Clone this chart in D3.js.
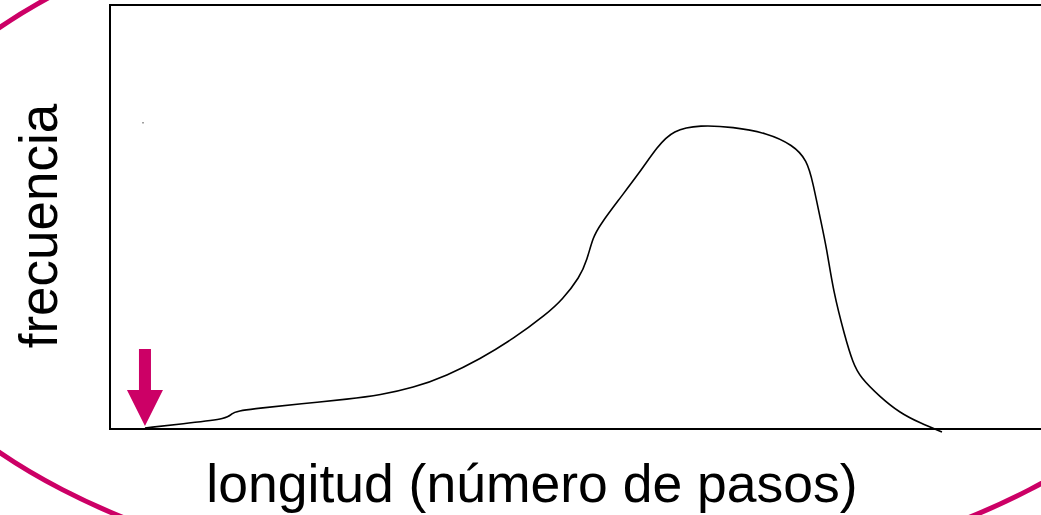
<!DOCTYPE html>
<html>
<head>
<meta charset="utf-8">
<script src="https://cdn.jsdelivr.net/npm/d3@7"></script>
<style>
  html, body { margin: 0; padding: 0; background: #fff; overflow: hidden; }
  svg { display: block; }
</style>
</head>
<body>
<svg id="chart" width="1041" height="515"></svg>
<script>
// Distribution curve: longitud (número de pasos) vs frecuencia (relative units 0-100)
const longitud = [3.76, 8.60, 12.69, 13.01, 13.66, 16.13, 20.43, 25.81, 29.03, 32.58, 36.24, 39.78, 43.33, 46.99, 48.60, 50.54, 51.29, 51.94, 52.69, 54.52, 56.99, 58.82, 60.54, 63.44, 66.99, 70.65, 73.44, 74.95, 75.59, 76.34, 77.10, 77.74, 79.03, 79.89, 80.65, 82.80, 84.95, 87.10, 89.46];
const frecuencia = [0.24, 1.42, 2.48, 3.54, 4.25, 4.95, 5.90, 7.08, 8.02, 9.67, 12.6, 16.5, 21.2, 27.2, 30.42, 35.85, 39.86, 45.28, 48.11, 53.54, 60.61, 66.51, 70.52, 71.70, 71.23, 69.81, 66.98, 63.44, 58.02, 50.00, 42.22, 32.78, 21.70, 15.57, 12.26, 7.55, 3.77, 1.42, -0.71];
const strayDot = [3.55, 72.2];
const xLabel = "longitud (número de pasos)";
const yLabel = "frecuencia";

const accent = "#cc0066";
const svg = d3.select("#chart");

const x = d3.scaleLinear().domain([0, 100]).range([110, 1040]);
const y = d3.scaleLinear().domain([0, 100]).range([429, 5]);

// big background ellipse
svg.append("ellipse")
  .attr("cx", 546).attr("cy", 240).attr("rx", 684).attr("ry", 353)
  .attr("fill", "none").attr("stroke", accent).attr("stroke-width", 5);

// plot frame (right side runs past the window)
svg.append("rect")
  .attr("x", x(0)).attr("y", y(100))
  .attr("width", 1060 - x(0)).attr("height", y(0) - y(100))
  .attr("fill", "#fff").attr("stroke", "#000").attr("stroke-width", 2);

// curve
const pts = longitud.map((v, i) => [v, frecuencia[i]]);
const line = d3.line().x(d => x(d[0])).y(d => y(d[1])).curve(d3.curveBasis);
svg.append("path").datum(pts)
  .attr("d", line)
  .attr("fill", "none").attr("stroke", "#000").attr("stroke-width", 1.6)
  .attr("stroke-linejoin", "round");

// stray dot
svg.append("circle")
  .attr("cx", x(strayDot[0])).attr("cy", y(strayDot[1])).attr("r", 0.8)
  .attr("fill", "#666");

// arrow pointing to the start of the curve
const ax = x(longitud[0]);
const tip = y(0) - 3;
const arrow = d3.path();
arrow.moveTo(ax - 6, tip - 77);
arrow.lineTo(ax + 6, tip - 77);
arrow.lineTo(ax + 6, tip - 36);
arrow.lineTo(ax + 18, tip - 36);
arrow.lineTo(ax, tip);
arrow.lineTo(ax - 18, tip - 36);
arrow.lineTo(ax - 6, tip - 36);
arrow.closePath();
svg.append("path").attr("d", arrow.toString()).attr("fill", accent);

// axis titles
svg.append("text")
  .attr("x", 532).attr("y", 502)
  .attr("text-anchor", "middle")
  .attr("font-family", "'Liberation Sans', Arial, sans-serif")
  .attr("font-size", 53.5)
  .attr("fill", "#000")
  .text(xLabel);

svg.append("text")
  .attr("transform", "translate(57,226) rotate(-90)")
  .attr("text-anchor", "middle")
  .attr("font-family", "'Liberation Sans', Arial, sans-serif")
  .attr("font-size", 53)
  .attr("fill", "#000")
  .text(yLabel);
</script>
</body>
</html>
